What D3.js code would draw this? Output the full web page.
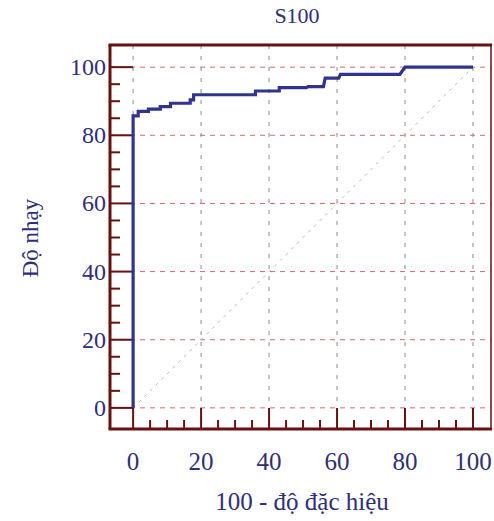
<!DOCTYPE html>
<html>
<head>
<meta charset="utf-8">
<script src="https://cdn.jsdelivr.net/npm/d3@7"></script>
<style>
  body { margin: 0; background: #fff; }
  svg text { font-family: 'Liberation Serif', 'Times New Roman', Times, serif; fill: #2f2f7a; }
</style>
</head>
<body>
<svg id="chart" width="494" height="521"></svg>
<script>
// ROC curve for S100: false positive rate (100 - specificity) vs sensitivity
const fpr = [0, 0, 1.5, 1.5, 4.5, 4.5, 8, 8, 11, 11, 16.8, 16.8, 17.8, 17.8, 36, 36, 43, 43, 51, 51.5, 56, 56.5, 60.5, 61, 78.5, 80, 100];
const tpr = [0, 85.7, 85.7, 87.0, 87.0, 87.7, 87.7, 88.4, 88.4, 89.4, 89.4, 90.4, 90.4, 91.9, 91.9, 93.0, 93.0, 94.0, 94.0, 94.3, 94.3, 96.8, 96.8, 97.9, 97.9, 100, 100];
const xTicks = [0, 20, 40, 60, 80, 100];
const yTicks = [0, 20, 40, 60, 80, 100];
const minorTicks = d3.range(0, 101, 5);
const titleText = "S100";
const xLabel = "100 - độ đặc hiệu";
const yLabel = "Độ nhạy";

const svg = d3.select("#chart");
const plotLeft = 110, plotRight = 491, plotTop = 45, plotBottom = 429;

const x = d3.scaleLinear().domain([-6.8, 105.3]).range([plotLeft, plotRight]);
const y = d3.scaleLinear().domain([-6.2, 106.5]).range([plotBottom, plotTop]);

const frameColor = "#6a1010";
const curveColor = "#30338f";
const serif = "'Liberation Serif', 'Times New Roman', Times, serif";

// grid
svg.append("g").selectAll("line").data(yTicks).join("line")
  .attr("x1", plotLeft).attr("x2", plotRight)
  .attr("y1", d => y(d)).attr("y2", d => y(d))
  .attr("stroke", "#d06a6a").attr("stroke-width", 1)
  .attr("stroke-dasharray", "5,5");
svg.append("g").selectAll("line").data(xTicks).join("line")
  .attr("y1", plotTop).attr("y2", plotBottom)
  .attr("x1", d => x(d)).attr("x2", d => x(d))
  .attr("stroke", "#8a8a8a").attr("stroke-width", 1)
  .attr("stroke-dasharray", "4,7");

// reference diagonal
svg.append("line")
  .attr("x1", x(0)).attr("y1", y(0)).attr("x2", x(100)).attr("y2", y(100))
  .attr("stroke", "#d9a8a8").attr("stroke-width", 1)
  .attr("stroke-dasharray", "3,5");

// ticks drawn inward from the frame
const ax = svg.append("g").attr("stroke", frameColor).attr("stroke-width", 2);
ax.selectAll(".xt").data(minorTicks).join("line")
  .attr("x1", d => x(d)).attr("x2", d => x(d))
  .attr("y1", plotBottom).attr("y2", d => plotBottom - (d % 20 === 0 ? 21 : 9));
ax.selectAll(".yt").data(minorTicks).join("line")
  .attr("y1", d => y(d)).attr("y2", d => y(d))
  .attr("x1", plotLeft).attr("x2", d => plotLeft + (d % 20 === 0 ? 23 : 10));

// ROC curve
const pts = fpr.map((f, i) => [f, tpr[i]]);
svg.append("path")
  .attr("d", d3.line().x(d => x(d[0])).y(d => y(d[1]))(pts))
  .attr("fill", "none").attr("stroke", curveColor)
  .attr("stroke-width", 3.2).attr("stroke-linejoin", "miter");

// frame
svg.append("line").attr("x1", plotRight).attr("x2", plotRight).attr("y1", plotTop).attr("y2", plotBottom)
  .attr("stroke", frameColor).attr("stroke-width", 1.5);
svg.append("line").attr("x1", plotLeft - 1.5).attr("x2", plotRight + 1).attr("y1", plotTop).attr("y2", plotTop)
  .attr("stroke", frameColor).attr("stroke-width", 3);
svg.append("line").attr("x1", plotLeft - 1.5).attr("x2", plotRight + 1).attr("y1", plotBottom).attr("y2", plotBottom)
  .attr("stroke", frameColor).attr("stroke-width", 3);
svg.append("line").attr("x1", plotLeft).attr("x2", plotLeft).attr("y1", plotTop).attr("y2", plotBottom)
  .attr("stroke", frameColor).attr("stroke-width", 3);

// tick labels
svg.append("g").selectAll("text").data(xTicks).join("text")
  .attr("x", d => x(d)).attr("y", 470)
  .attr("text-anchor", "middle").attr("font-size", 25).attr("font-family", serif)
  .text(d => d);
svg.append("g").selectAll("text").data(yTicks).join("text")
  .attr("x", 106).attr("y", d => y(d) + 8)
  .attr("text-anchor", "end").attr("font-size", 24).attr("font-family", serif)
  .text(d => d);

// titles
svg.append("text").attr("x", 297).attr("y", 23).attr("font-family", serif)
  .attr("text-anchor", "middle").attr("font-size", 22).text(titleText);
svg.append("text").attr("x", 302).attr("y", 510).attr("font-family", serif)
  .attr("text-anchor", "middle").attr("font-size", 25).text(xLabel);
svg.append("text").attr("transform", "translate(38,238) rotate(-90)").attr("font-family", serif)
  .attr("text-anchor", "middle").attr("font-size", 23).text(yLabel);
</script>
</body>
</html>
